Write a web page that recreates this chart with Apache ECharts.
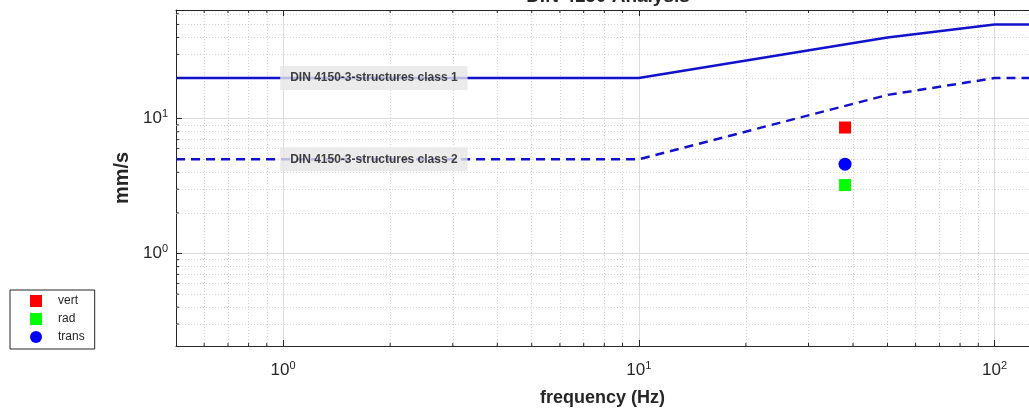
<!DOCTYPE html>
<html>
<head>
<meta charset="utf-8">
<script src="https://cdn.jsdelivr.net/npm/echarts@6/dist/echarts.min.js"></script>
<style>
  html, body { margin: 0; padding: 0; background: #fff; }
  #chart { width: 1029px; height: 412px; }
</style>
</head>
<body>
<div id="chart"></div>
<script>
// DIN 4150 limit curves (frequency Hz -> mm/s)
const limitFreq = [0.5, 10, 50, 100, 125]
const class1 = [20, 20, 40, 50, 50]
const class2 = [5, 5, 15, 20, 20]
const limitNames = ['DIN 4150-3-structures class 1', 'DIN 4150-3-structures class 2']
const labelFreq = 1.8

// measured peaks
const peakFreq = 38
const vert = [8.6]
const rad = [3.22]
const trans = [4.6]

// axis ranges and minor grid positions
const xRange = [0.5, 125]
const yRange = [0.206, 64]
const minorX = [0.6, 0.7, 0.8, 0.9, 2, 3, 4, 5, 6, 7, 8, 9, 20, 30, 40, 50, 60, 70, 80, 90]
const minorY = [0.3, 0.4, 0.5, 0.6, 0.7, 0.8, 0.9, 2, 3, 4, 5, 6, 7, 8, 9, 20, 30, 40, 50, 60]

const axisColor = '#262626'
const lineBlue = '#1212cc'
const font = 'Liberation Sans'

let myChart = echarts.init(document.getElementById('chart'))

function pow10Label (v) {
  const e = Math.round(Math.log10(v))
  if (Math.abs(Math.log10(v) - e) > 1e-6) return ''
  return '{b|10}{s|' + e + '}'
}
const richLabel = {
  b: { fontSize: 17, color: axisColor, fontFamily: font },
  s: { fontSize: 11, color: axisColor, fontFamily: font, padding: [0, 0, 10, 0] }
}

// minor grid lines as markLines, minor ticks as tiny marks
const minorGrid = {
  type: 'line',
  data: [],
  silent: true,
  z: 1,
  markLine: {
    silent: true,
    z: 1,
    symbol: 'none',
    animation: false,
    label: { show: false },
    lineStyle: { color: '#d4d4d4', type: [1, 2], width: 1 },
    data: minorX.map(function (v) { return { xAxis: v } })
      .concat(minorY.map(function (v) { return { yAxis: v } }))
  }
}
function tickMarks (pts, size, offset) {
  return {
    type: 'scatter',
    silent: true,
    clip: false,
    z: 5,
    symbol: 'rect',
    symbolSize: size,
    symbolOffset: offset,
    itemStyle: { color: axisColor, opacity: 1 },
    data: pts
  }
}

let option = {
  animation: false,
  backgroundColor: '#fff',
  title: {
    text: 'DIN 4150 Analysis',
    left: 603,
    textAlign: 'center',
    top: -18,
    textStyle: { fontSize: 19, fontWeight: 'bold', color: axisColor, fontFamily: font }
  },
  legend: {
    data: ['vert', 'rad', 'trans'],
    orient: 'vertical',
    left: 10,
    top: 290,
    padding: [5, 10, 6, 20],
    itemGap: 6,
    itemWidth: 12,
    itemHeight: 12,
    borderColor: axisColor,
    borderWidth: 1,
    backgroundColor: '#fff',
    textStyle: { fontSize: 12, color: axisColor, fontFamily: font, padding: [0, 0, 0, 11] }
  },
  grid: {
    left: 176,
    right: -3,
    top: 10,
    bottom: 64
  },
  xAxis: [
    {
      type: 'log',
      logBase: 10,
      min: xRange[0],
      max: xRange[1],
      name: 'frequency (Hz)',
      nameLocation: 'middle',
      nameGap: 43,
      nameTextStyle: { fontSize: 18, fontWeight: 'bold', color: axisColor, fontFamily: font },
      axisLine: { show: true, lineStyle: { color: axisColor, width: 1 } },
      axisTick: { inside: true, length: 6, lineStyle: { color: axisColor } },
      axisLabel: { formatter: pow10Label, rich: richLabel, margin: 14, showMinLabel: false, showMaxLabel: false },
      splitLine: { show: true, lineStyle: { color: '#dcdcdc', width: 1 } }
    },
    {
      type: 'log',
      logBase: 10,
      position: 'top',
      min: xRange[0],
      max: xRange[1],
      axisLine: { show: true, lineStyle: { color: axisColor, width: 1 } },
      axisTick: { inside: true, length: 6, lineStyle: { color: axisColor } },
      axisLabel: { show: false },
      splitLine: { show: false }
    }
  ],
  yAxis: {
    type: 'log',
    logBase: 10,
    min: yRange[0],
    max: yRange[1],
    name: 'mm/s',
    nameLocation: 'middle',
    nameGap: 41,
    nameTextStyle: { fontSize: 20, fontWeight: 'bold', color: axisColor, fontFamily: font },
    axisLine: { show: true, lineStyle: { color: axisColor, width: 1 } },
    axisTick: { inside: true, length: 6, lineStyle: { color: axisColor } },
    axisLabel: { formatter: pow10Label, rich: richLabel, margin: 8, showMinLabel: false, showMaxLabel: false },
    splitLine: { show: true, lineStyle: { color: '#dcdcdc', width: 1 } }
  },
  series: [
    minorGrid,
    tickMarks(minorX.map(function (v) { return [v, yRange[0]] }), [1, 3], [0, -1.5]),
    tickMarks(minorX.map(function (v) { return [v, yRange[1]] }), [1, 3], [0, 1.5]),
    tickMarks(minorY.map(function (v) { return [xRange[0], v] }), [3, 1], [1.5, 0]),
    {
      name: limitNames[0],
      type: 'line',
      symbol: 'none',
      z: 3,
      lineStyle: { color: lineBlue, width: 2.5 },
      data: limitFreq.map(function (f, i) { return [f, class1[i]] })
    },
    {
      name: limitNames[1],
      type: 'line',
      symbol: 'none',
      z: 3,
      lineStyle: { color: lineBlue, width: 2.5, type: [9, 6] },
      data: limitFreq.map(function (f, i) { return [f, class2[i]] })
    },
    {
      // text boxes sitting on the limit lines
      type: 'scatter',
      silent: true,
      z: 6,
      symbolSize: 1,
      itemStyle: { color: 'rgba(0,0,0,0)' },
      label: {
        show: true,
        position: 'inside',
        formatter: function (p) { return limitNames[p.dataIndex] },
        fontSize: 12,
        fontWeight: 'bold',
        fontFamily: font,
        color: '#111',
        backgroundColor: '#e6e6e6',
        padding: [6, 10]
      },
      data: [[labelFreq, class1[0]], [labelFreq, class2[0]]]
    },
    {
      name: 'vert',
      type: 'scatter',
      symbol: 'rect',
      symbolSize: 12,
      z: 4,
      itemStyle: { color: '#ff0000', opacity: 1 },
      data: vert.map(function (v) { return [peakFreq, v] })
    },
    {
      name: 'rad',
      type: 'scatter',
      symbol: 'rect',
      symbolSize: 12,
      z: 4,
      itemStyle: { color: '#00ff00', opacity: 1 },
      data: rad.map(function (v) { return [peakFreq, v] })
    },
    {
      name: 'trans',
      type: 'scatter',
      symbol: 'circle',
      symbolSize: 13,
      z: 4,
      itemStyle: { color: '#0000ff', opacity: 1 },
      data: trans.map(function (v) { return [peakFreq, v] })
    }
  ]
}
myChart.setOption(option)
</script>
</body>
</html>
